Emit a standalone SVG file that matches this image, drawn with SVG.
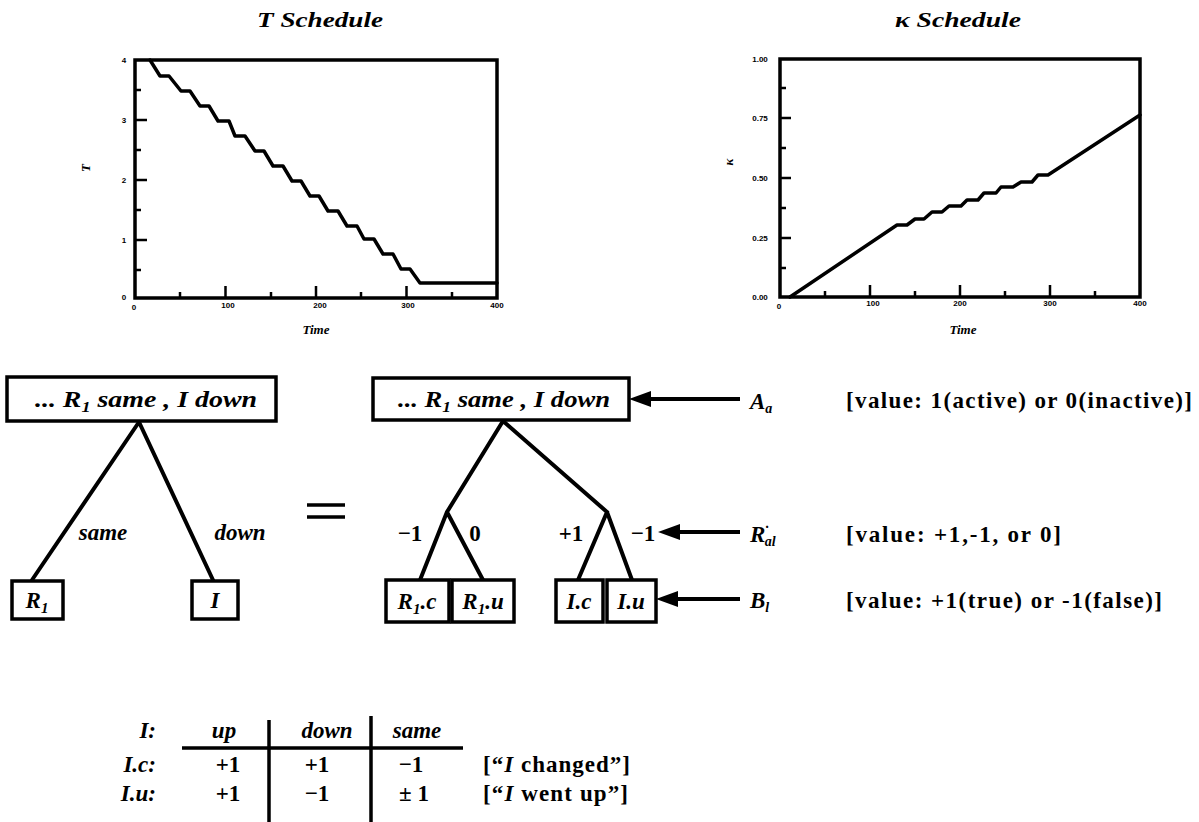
<svg xmlns="http://www.w3.org/2000/svg" width="1199" height="822" viewBox="0 0 1199 822">
<defs>
<style>
.bg{fill:#fff}
.frame{fill:none;stroke:#000;stroke-width:3.5}
.tick{stroke:#000;stroke-width:2.5;fill:none}
.curve{fill:none;stroke:#000;stroke-width:3.5;stroke-linejoin:round;stroke-linecap:round}
.tl{font-family:"Liberation Sans",Arial,sans-serif;font-weight:bold;font-size:8px;fill:#000;text-anchor:middle}
.title{font-family:"Liberation Serif","Times New Roman",serif;font-style:italic;font-weight:bold;font-size:22px;fill:#000}
.axl{font-family:"Liberation Serif","Times New Roman",serif;font-style:italic;font-weight:bold;font-size:13px;fill:#000;text-anchor:middle}
.box{fill:#fff;stroke:#000;stroke-width:3.5}
.edge{stroke:#000;stroke-width:4;fill:none;stroke-linecap:round}
.arr{stroke:#000;stroke-width:4;fill:none}
.bi{font-family:"Liberation Serif","Times New Roman",serif;font-style:italic;font-weight:bold;font-size:23px;fill:#000}
.b{font-family:"Liberation Serif","Times New Roman",serif;font-weight:bold;font-size:23px;fill:#000}
.mid{text-anchor:middle}
.end{text-anchor:end}
.line{stroke:#000;stroke-width:3.5;fill:none}
</style>
<marker id="ah" markerUnits="userSpaceOnUse" markerWidth="22" markerHeight="16" refX="0" refY="8" orient="auto">
<path d="M0,0 L22,8 L0,16 z" fill="#000"/>
</marker>
</defs>
<rect class="bg" x="0" y="0" width="1199" height="822"/>

<g id="plot-T">
<text class="title" x="257" y="27" textLength="126" lengthAdjust="spacingAndGlyphs">T Schedule</text>
<rect class="frame" x="135" y="60" width="362" height="238"/>
<path class="tick" d="M135,120h12M135,180h12M135,240h12M135,90h6M135,150h6M135,210h6M135,270h6"/>
<path class="tick" d="M225.5,298v-12M316,298v-12M406.5,298v-12M180,298v-6M271,298v-6M361,298v-6M452,298v-6"/>
<text class="tl" x="124" y="63">4</text>
<text class="tl" x="124" y="123">3</text>
<text class="tl" x="124" y="183">2</text>
<text class="tl" x="124" y="243">1</text>
<text class="tl" x="124" y="300">0</text>
<text class="tl" x="134" y="310">0</text>
<text class="tl" x="228" y="308">100</text>
<text class="tl" x="320" y="308">200</text>
<text class="tl" x="408" y="308">300</text>
<text class="tl" x="497" y="308">400</text>
<text class="axl" transform="translate(90,168) rotate(-90)">T</text>
<text class="axl" x="316" y="334">Time</text>
<path class="curve" d="M150,60 L160,76 L169,76 L181,91 L190,91 L200,106 L209,106 L218,121 L229,121 L235,136 L245,136 L255,151 L264,151 L273,166 L283,166 L292,181 L301,181 L310,196 L319,196 L328,211 L338,211 L347,226 L357,226 L364,239 L374,239 L383,254 L393,254 L401,269 L410,269 L420,283 L497,283"/>
</g>

<g id="plot-K">
<text class="title" x="895" y="27" textLength="126" lengthAdjust="spacingAndGlyphs">κ Schedule</text>
<rect class="frame" x="780" y="59" width="360" height="238"/>
<path class="tick" d="M780,118h11M780,178h11M780,238h11M780,88h6M780,148h6M780,208h6M780,268h6"/>
<path class="tick" d="M870,297v-12M960,297v-12M1050,297v-12M825,297v-6M915,297v-6M1005,297v-6M1095,297v-6"/>
<text class="tl" x="760" y="62">1.00</text>
<text class="tl" x="760" y="121">0.75</text>
<text class="tl" x="760" y="181">0.50</text>
<text class="tl" x="760" y="241">0.25</text>
<text class="tl" x="760" y="300">0.00</text>
<text class="tl" x="779" y="309">0</text>
<text class="tl" x="873" y="306">100</text>
<text class="tl" x="960" y="306">200</text>
<text class="tl" x="1050" y="306">300</text>
<text class="tl" x="1140" y="306">400</text>
<text class="axl" transform="translate(733,162) rotate(-90)">κ</text>
<text class="axl" x="963" y="334">Time</text>
<path class="curve" d="M790,297 L897,225 L907,225 L915,219 L924,219 L932,212 L942,212 L949,206 L961,206 L967,200 L978,200 L984,193 L996,193 L1001,187 L1013,187 L1021,182 L1032,182 L1038,175 L1048,175 L1140,115"/>
</g>

<g id="connectors">
<path class="edge" d="M139,422 L32,580 M139,422 L213,580"/>
<path class="edge" d="M503,421 L447,512 L420,580 M447,512 L483,580 M503,421 L607,512 L578,580 M607,512 L632,580"/>
<line class="arr" x1="740" y1="399" x2="651" y2="399" marker-end="url(#ah)"/>
<line class="arr" x1="740" y1="532" x2="680" y2="532" marker-end="url(#ah)"/>
<line class="arr" x1="740" y1="599" x2="678" y2="599" marker-end="url(#ah)"/>
</g>

<g id="node-left-root">
<rect class="box" x="7" y="377" width="269" height="44"/>
<text class="bi" x="35" y="407" textLength="222" lengthAdjust="spacingAndGlyphs">... R<tspan font-size="15" dy="5">1</tspan><tspan dy="-5"> same , I  down</tspan></text>
</g>
<g id="node-left-R1">
<rect class="box" x="12" y="581" width="51" height="38"/>
<text class="bi mid" x="37" y="608">R<tspan font-size="15" dy="5">1</tspan></text>
</g>
<g id="node-left-I">
<rect class="box" x="192" y="581" width="46" height="38"/>
<text class="bi mid" x="215" y="608">I</text>
</g>
<g id="edge-labels-left">
<text class="bi mid" x="103" y="540">same</text>
<text class="bi mid" x="240" y="540">down</text>
</g>

<g id="equals">
<path class="line" d="M307,505 H345 M307,517 H345"/>
</g>

<g id="node-right-root">
<rect class="box" x="373" y="378" width="256" height="42"/>
<text class="bi" x="398" y="407" textLength="212" lengthAdjust="spacingAndGlyphs">... R<tspan font-size="15" dy="5">1</tspan><tspan dy="-5"> same , I down</tspan></text>
</g>
<g id="node-R1c">
<rect class="box" x="386" y="580" width="63" height="42"/>
<text class="bi mid" x="417" y="609">R<tspan font-size="15" dy="5">1</tspan><tspan dy="-5">.c</tspan></text>
</g>
<g id="node-R1u">
<rect class="box" x="452" y="580" width="62" height="42"/>
<text class="bi mid" x="483" y="609">R<tspan font-size="15" dy="5">1</tspan><tspan dy="-5">.u</tspan></text>
</g>
<g id="node-Ic">
<rect class="box" x="556" y="580" width="47" height="42"/>
<text class="bi mid" x="579" y="609">I.c</text>
</g>
<g id="node-Iu">
<rect class="box" x="607" y="580" width="49" height="42"/>
<text class="bi mid" x="631" y="609">I.u</text>
</g>
<g id="edge-labels-right">
<text class="b mid" x="410" y="541">−1</text>
<text class="b mid" x="475" y="541">0</text>
<text class="b mid" x="571" y="541">+1</text>
<text class="b mid" x="643" y="541">−1</text>
</g>

<g id="legend">
<text class="bi" x="750" y="409">A<tspan font-size="14" dy="4">a</tspan></text>
<text class="bi" x="750" y="542">R<tspan font-size="14" dy="-10">·</tspan><tspan font-size="14" dx="-4" dy="14">al</tspan></text>
<text class="bi" x="750" y="608">B<tspan font-size="14" dy="4">l</tspan></text>
<text class="b" x="846" y="408" font-size="24" textLength="346" lengthAdjust="spacing">[value: 1(active) or 0(inactive)]</text>
<text class="b" x="846" y="542" font-size="24" textLength="215" lengthAdjust="spacing">[value: +1,-1, or 0]</text>
<text class="b" x="846" y="608" font-size="24" textLength="316" lengthAdjust="spacing">[value: +1(true) or -1(false)]</text>
</g>

<g id="table">
<path class="line" d="M182,748 H463 M269,720 V822 M371,716 V822"/>
<text class="bi end" x="156" y="738">I:</text>
<text class="bi end" x="156" y="772">I.c:</text>
<text class="bi end" x="156" y="801">I.u:</text>
<text class="bi mid" x="224" y="738">up</text>
<text class="bi mid" x="327" y="738">down</text>
<text class="bi mid" x="417" y="738">same</text>
<text class="b mid" x="228" y="772">+1</text>
<text class="b mid" x="317" y="772">+1</text>
<text class="b mid" x="411" y="772">−1</text>
<text class="b mid" x="228" y="801">+1</text>
<text class="b mid" x="317" y="801">−1</text>
<text class="b mid" x="414" y="801">± 1</text>
<text class="b" x="483" y="772" textLength="147" lengthAdjust="spacing">[“<tspan font-style="italic">I</tspan> changed”]</text>
<text class="b" x="483" y="801" textLength="145" lengthAdjust="spacing">[“<tspan font-style="italic">I</tspan> went up”]</text>
</g>
</svg>
